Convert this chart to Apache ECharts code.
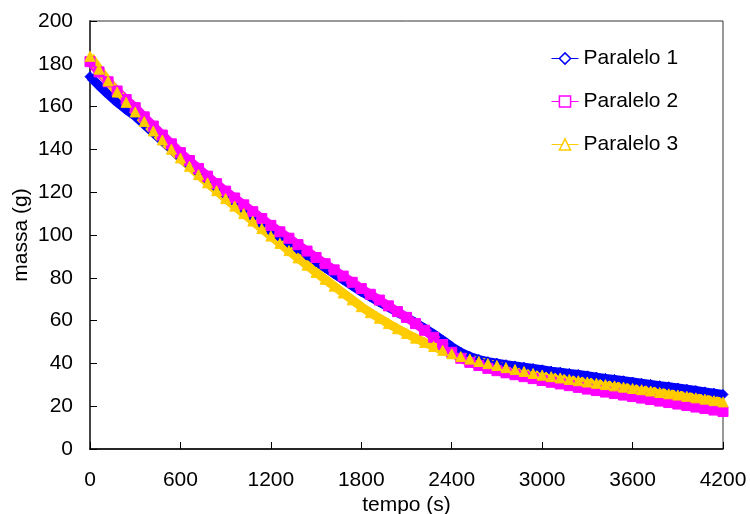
<!DOCTYPE html>
<html>
<head>
<meta charset="utf-8">
<script src="https://cdn.jsdelivr.net/npm/echarts@6/dist/echarts.min.js"></script>
<style>
html,body{margin:0;padding:0;background:#fff;}
#chart{width:750px;height:514px;}
</style>
</head>
<body>
<div id="chart"></div>
<script>
// time samples (s)
var tempo = [0,60,120,180,240,300,360,420,480,540,600,660,720,780,840,900,960,1020,1080,1140,1200,
  1260,1320,1380,1440,1500,1560,1620,1680,1740,1800,1860,1920,1980,2040,2100,2160,2220,2280,2340,2400,
  2460,2520,2580,2640,2700,2760,2820,2880,2940,3000,3060,3120,3180,3240,3300,3360,3420,3480,3540,3600,
  3660,3720,3780,3840,3900,3960,4020,4080,4140,4200];

var paralelo1 = [174,169.8,165.8,162,158.6,155.5,151.7,147.8,143.9,140,136,
  132.4,128.9,125.4,121.9,118.5,115.1,111.7,108.3,104.9,101.5,
  98.7,95.9,93.1,90.3,87.5,84.7,81.9,79.1,76.3,73.5,
  71.1,68.7,66.3,63.9,61.5,59,56.4,53.7,50.8,47.8,
  45.2,43.2,41.8,40.8,40.1,39.4,38.8,38.2,37.6,37,
  36.4,35.9,35.3,34.8,34.2,33.6,33.0,32.5,31.9,31.3,
  30.7,30.2,29.6,29.1,28.5,27.9,27.3,26.7,26.1,25.5];

var paralelo2 = [181,176.2,171.6,167.3,163.3,159.5,155.2,150.9,146.7,142.6,138.5,
  134.8,131.1,127.5,124,120.5,117.3,114.1,110.9,107.7,104.5,
  101.5,98.5,95.5,92.5,89.5,86.6,83.7,80.8,77.9,75,
  72.3,69.6,66.9,64.2,61.5,58.6,55.5,52.2,48.8,45.2,
  42.4,40.5,39.0,37.7,36.6,35.6,34.7,33.8,32.9,32,
  31.2,30.4,29.6,28.8,28,27.3,26.6,25.9,25.2,24.5,
  23.8,23.1,22.4,21.7,21,20.3,19.6,18.9,18.2,17.5];

var paralelo3 = [183.5,177.5,172,166.8,162,157.5,153,148.6,144.4,140.1,136,
  132.1,128.2,124.4,120.7,117,113.5,110,106.5,103,99.5,
  96.1,92.7,89.3,85.9,82.5,79.3,76.1,72.9,69.7,66.5,
  63.7,61.1,58.6,56.2,54,51.8,49.8,47.9,46.1,44.5,
  43.2,42.0,40.9,39.9,39,38.0,37.1,36.2,35.3,34.5,
  33.8,33.2,32.5,31.9,31.3,30.7,30.1,29.5,28.9,28.3,
  27.7,27.1,26.4,25.8,25.2,24.6,23.9,23.3,22.6,22];

var seriesNames = ['Paralelo 1','Paralelo 2','Paralelo 3'];
var seriesColors = ['#0000FF','#FF00FF','#FFCC00'];
var seriesSymbols = ['diamond','rect','triangle'];
var seriesValues = [paralelo1, paralelo2, paralelo3];

function pairs(vals){
  var out = [];
  for (var i = 0; i < tempo.length; i++) out.push([tempo[i], vals[i]]);
  return out;
}

var FONT = 'Liberation Sans, Arial, sans-serif';
var chart = echarts.init(document.getElementById('chart'));

var series = seriesNames.map(function(n, i){
  return {
    name: n,
    type: 'line',
    data: pairs(seriesValues[i]),
    symbol: seriesSymbols[i],
    symbolSize: 10,
    showSymbol: true,
    clip: false,
    animation: false,
    lineStyle: {color: seriesColors[i], width: 9},
    itemStyle: {color: seriesColors[i], borderColor: seriesColors[i], borderWidth: 1}
  };
});

chart.setOption({
  animation: false,
  backgroundColor: '#fff',
  grid: {left: 90, right: 27, top: 21, bottom: 65, show: true, borderColor: '#333', borderWidth: 1,
    containLabel: false, outerBoundsMode: 'none'},
  legend: {
    orient: 'vertical',
    left: 546,
    top: 43,
    itemWidth: 27,
    itemHeight: 14,
    itemGap: 22,
    textStyle: {fontSize: 21, color: '#000', fontFamily: FONT},
    lineStyle: {width: 1},
    data: seriesNames.map(function(n, i){
      return {name: n, itemStyle: {color: '#fff', borderColor: seriesColors[i], borderWidth: 1.5}};
    })
  },
  xAxis: {
    type: 'value',
    min: 0, max: 4200, interval: 600,
    name: 'tempo (s)',
    nameLocation: 'middle',
    nameGap: 46,
    nameMoveOverlap: false,
    nameTextStyle: {fontSize: 21, color: '#000', fontFamily: FONT},
    axisLine: {lineStyle: {color: '#000', width: 1.5}},
    axisTick: {inside: true, length: 7, lineStyle: {color: '#000'}},
    axisLabel: {fontSize: 21, color: '#000', fontFamily: FONT, margin: 21,
      formatter: function(v){ return String(v); }},
    splitLine: {show: false}
  },
  yAxis: {
    type: 'value',
    min: 0, max: 200, interval: 20,
    name: 'massa (g)',
    nameLocation: 'middle',
    nameGap: 58,
    nameMoveOverlap: false,
    nameTextStyle: {fontSize: 21, color: '#000', fontFamily: FONT},
    axisLine: {show: true, lineStyle: {color: '#444', width: 2}},
    axisTick: {show: true, inside: true, length: 7, lineStyle: {color: '#000'}},
    axisLabel: {fontSize: 21, color: '#000', fontFamily: FONT, margin: 17,
      formatter: function(v){ return String(v); }},
    splitLine: {show: false}
  },
  series: series
});
</script>
</body>
</html>
